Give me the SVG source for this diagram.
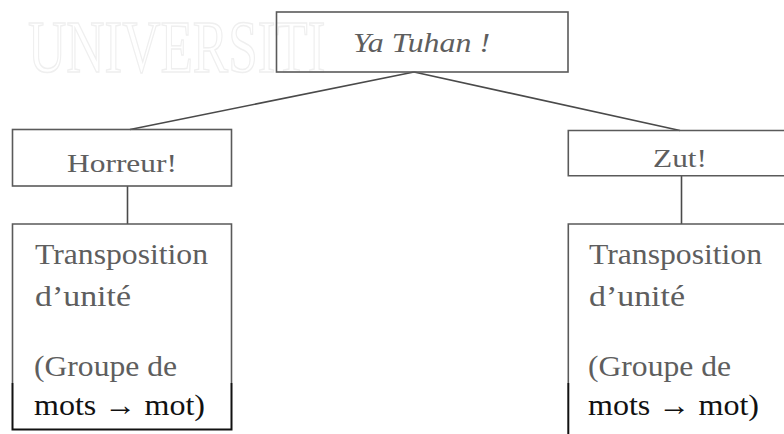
<svg xmlns="http://www.w3.org/2000/svg" width="784" height="434" viewBox="0 0 784 434" font-family="'Liberation Serif', 'Times New Roman', serif">
  <style>
    .box { fill: none; stroke: #5a5a5a; stroke-width: 1.6; }
    .edge { fill: none; stroke: #111; stroke-width: 2; }
    .wire { fill: none; stroke: #4a4a4a; stroke-width: 1.6; }
    text { font-family: 'Liberation Serif', 'Times New Roman', serif; }
    .lbl { fill: #5e5e5e; }
    .dark { fill: #111; }
    .wm { fill: none; stroke: #efefef; stroke-width: 1.1; }
  </style>
  <rect width="784" height="434" fill="#fff"/>

  <!-- faint background watermark -->
  <text class="wm" transform="translate(28 72) scale(1 1.4)" x="0" y="0" font-size="53">UNIVERSITI</text>

  <!-- connectors -->
  <g id="connectors">
    <line class="wire" x1="414" y1="72" x2="130" y2="129.5"/>
    <line class="wire" x1="414" y1="72" x2="680" y2="130.5"/>
    <line class="wire" x1="127.5" y1="186" x2="127.5" y2="224"/>
    <line class="wire" x1="681.5" y1="176" x2="681.5" y2="224"/>
  </g>

  <g id="root">
    <rect class="box" x="276.5" y="12" width="291.5" height="60"/>
    <text class="lbl" x="421.5" y="52" font-size="28" font-style="italic" text-anchor="middle" textLength="137" lengthAdjust="spacingAndGlyphs">Ya Tuhan !</text>
  </g>

  <g id="horreur">
    <rect class="box" x="12.5" y="129.5" width="219" height="56.5"/>
    <text class="lbl" x="122" y="171.5" font-size="26" text-anchor="middle" textLength="110" lengthAdjust="spacingAndGlyphs">Horreur!</text>
  </g>

  <g id="zut">
    <path class="box" d="M790 130.5 H568.3 V175.8 H790"/>
    <text class="lbl" x="680" y="167" font-size="26" text-anchor="middle" textLength="54" lengthAdjust="spacingAndGlyphs">Zut!</text>
  </g>

  <g id="left-detail">
    <path class="box" d="M12.5 383 V224 H231.5 V383"/>
    <path class="edge" d="M12.5 383 V429.5 H231.5 V383"/>
    <text class="lbl" x="35" y="263.5" font-size="30" textLength="173" lengthAdjust="spacingAndGlyphs">Transposition</text>
    <text class="lbl" x="35" y="306" font-size="30" textLength="96" lengthAdjust="spacingAndGlyphs">d’unité</text>
    <text class="lbl" x="34" y="376" font-size="30" textLength="143" lengthAdjust="spacingAndGlyphs">(Groupe de</text>
    <text class="lbl dark" x="34" y="415" font-size="30" textLength="171" lengthAdjust="spacingAndGlyphs">mots → mot)</text>
  </g>

  <g id="right-detail">
    <path class="box" d="M568.3 383 V224 H790"/>
    <path class="edge" d="M568.3 383 V440"/>
    <text class="lbl" x="589" y="263.5" font-size="30" textLength="173" lengthAdjust="spacingAndGlyphs">Transposition</text>
    <text class="lbl" x="589" y="306" font-size="30" textLength="96" lengthAdjust="spacingAndGlyphs">d’unité</text>
    <text class="lbl" x="588" y="376" font-size="30" textLength="143" lengthAdjust="spacingAndGlyphs">(Groupe de</text>
    <text class="lbl dark" x="588" y="415" font-size="30" textLength="171" lengthAdjust="spacingAndGlyphs">mots → mot)</text>
  </g>
</svg>
